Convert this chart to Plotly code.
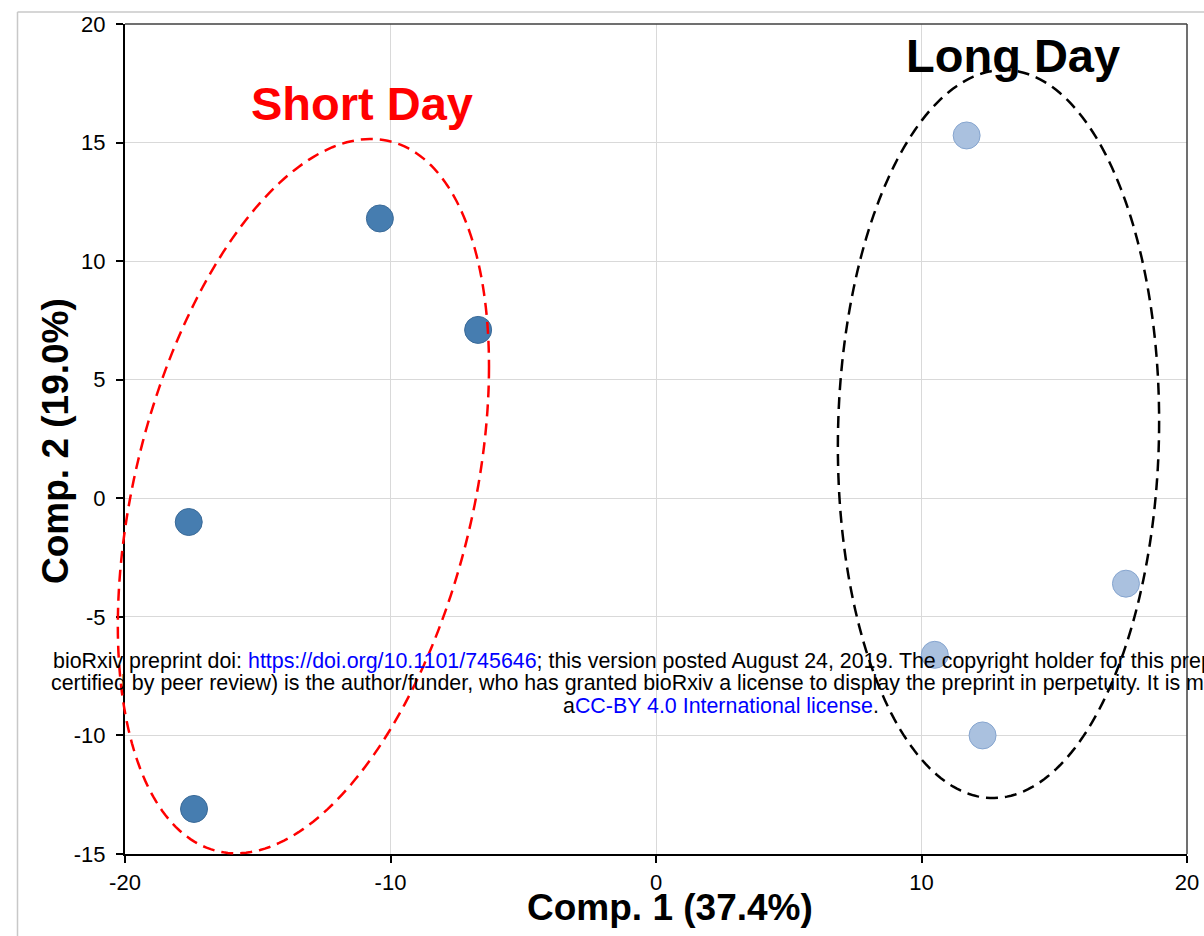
import numpy as np
import plotly.graph_objects as go

# ---- data ----
short_day_x = [-10.4, -6.7, -17.6, -17.4]
short_day_y = [11.8, 7.1, -1.0, -13.1]
long_day_x = [11.7, 17.7, 10.5, 12.3]
long_day_y = [15.3, -3.6, -6.6, -10.0]

x_range = [-20, 20]
y_range = [-15, 20]
x_tickvals = [-20, -10, 0, 10, 20]
x_ticktext = ["-20", "-10", "0", "10", "20"]
y_tickvals = [-15, -10, -5, 0, 5, 10, 15, 20]
y_ticktext = ["-15", "-10", "-5", "0", "5", "10", "15", "20"]

x_title = "Comp. 1 (37.4%)"
y_title = "Comp. 2 (19.0%)"
group_labels = ["Short Day", "Long Day"]

# group ellipses: centre x, centre y, half-width, half-height, phase (deg)
short_ellipse = [-13.28, 0.09, 6.99, 15.06, 68.7]
long_ellipse = [12.90, 2.71, 6.05, 15.35, 88.0]

watermark_lines = [
    "bioRxiv preprint doi: <span style='color:#0000FF'>https://doi.org/10.1101/745646</span>; this version posted August 24, 2019. The copyright holder for this preprint (which was not",
    "certified by peer review) is the author/funder, who has granted bioRxiv a license to display the preprint in perpetuity. It is made available under",
    "a<span style='color:#0000FF'>CC-BY 4.0 International license</span>.",
]

W, H = 1204, 936
ML, MR, MT, MB = 125, 17, 24, 82
PW, PH = W - ML - MR, H - MT - MB


def px(xp):
    return (xp - ML) / PW


def py(yp):
    return (H - MB - yp) / PH


def ellipse_path(p):
    cx, cy, w, h, ph = p
    t = np.linspace(0, 2 * np.pi, 241)
    x = cx + w * np.cos(t)
    y = cy + h * np.cos(t + np.radians(ph))
    dx = (x - x_range[0]) / (x_range[1] - x_range[0])
    dy = (y - y_range[0]) / (y_range[1] - y_range[0])
    return "M " + " L ".join(f"{a:.5f},{b:.5f}" for a, b in zip(dx, dy)) + " Z"


FONT = "Liberation Sans, Arial, sans-serif"

fig = go.Figure()
fig.add_trace(go.Scatter(
    x=short_day_x, y=short_day_y, mode="markers", name=group_labels[0],
    marker=dict(size=27, color="#467DB0", line=dict(color="#3A6A98", width=1)),
    cliponaxis=False,
))
fig.add_trace(go.Scatter(
    x=long_day_x, y=long_day_y, mode="markers", name=group_labels[1],
    marker=dict(size=27, color="#AAC1DF", line=dict(color="#86A5CF", width=1)),
    cliponaxis=False,
))

shapes = [
    dict(type="path", xref="x domain", yref="y domain", path=ellipse_path(short_ellipse),
         line=dict(color="#FF0000", width=2.5, dash="12px,7px"), layer="above"),
    dict(type="path", xref="x domain", yref="y domain", path=ellipse_path(long_ellipse),
         line=dict(color="#000000", width=2.5, dash="12px,7px"), layer="above"),
    # plot-area top and right border
    dict(type="line", xref="paper", yref="paper", x0=0, x1=1, y0=1, y1=1,
         line=dict(color="#404040", width=1.5), layer="above"),
    dict(type="line", xref="paper", yref="paper", x0=1, x1=1, y0=0, y1=1,
         line=dict(color="#404040", width=1.5), layer="above"),
    # page frame
    dict(type="line", xref="paper", yref="paper", x0=px(17.5), x1=px(1300), y0=py(12), y1=py(12),
         line=dict(color="#C8C8C8", width=1.5), layer="above"),
    dict(type="line", xref="paper", yref="paper", x0=px(17.5), x1=px(17.5), y0=py(12), y1=py(1000),
         line=dict(color="#C8C8C8", width=1.5), layer="above"),
]

annotations = [
    dict(text=f"<b>{group_labels[0]}</b>", xref="paper", yref="paper", x=px(362), y=py(104),
         xanchor="center", yanchor="middle", showarrow=False,
         font=dict(family=FONT, size=47, color="#FF0000")),
    dict(text=f"<b>{group_labels[1]}</b>", xref="paper", yref="paper", x=px(1013), y=py(56),
         xanchor="center", yanchor="middle", showarrow=False,
         font=dict(family=FONT, size=47, color="#000000")),
    dict(text=f"<b>{x_title}</b>", xref="paper", yref="paper", x=px(670), y=py(907),
         xanchor="center", yanchor="middle", showarrow=False,
         font=dict(family=FONT, size=37, color="#000000")),
    dict(text=f"<b>{y_title}</b>", xref="paper", yref="paper", x=px(55), y=py(441),
         xanchor="center", yanchor="middle", showarrow=False, textangle=-90,
         font=dict(family=FONT, size=37, color="#000000")),
]
for line, ypix in zip(watermark_lines, [661, 683, 706]):
    annotations.append(dict(text=line, xref="paper", yref="paper", x=px(721), y=py(ypix),
                            xanchor="center", yanchor="middle", showarrow=False,
                            font=dict(family=FONT, size=21.4, color="#000000")))

axis_common = dict(
    showline=True, linecolor="#000000", linewidth=2,
    ticks="outside", ticklen=7, tickwidth=1.5, tickcolor="#000000",
    showgrid=True, gridcolor="#D9D9D9", gridwidth=1, zeroline=False,
    automargin=False,
    tickfont=dict(family=FONT, size=22, color="#000000"),
)

fig.update_layout(
    width=W, height=H,
    margin=dict(l=ML, r=MR, t=MT, b=MB, pad=0, autoexpand=False),
    paper_bgcolor="#FFFFFF", plot_bgcolor="#FFFFFF",
    showlegend=False,
    xaxis=dict(range=x_range, tickvals=x_tickvals, ticktext=x_ticktext,
               ticklabelstandoff=1, **axis_common),
    yaxis=dict(range=y_range, tickvals=y_tickvals, ticktext=y_ticktext,
               ticklabelstandoff=6, **axis_common),
    shapes=shapes,
    annotations=annotations,
)

fig.write_html("out.html", config={"displayModeBar": False},
               post_script="document.body.style.margin='0';")
